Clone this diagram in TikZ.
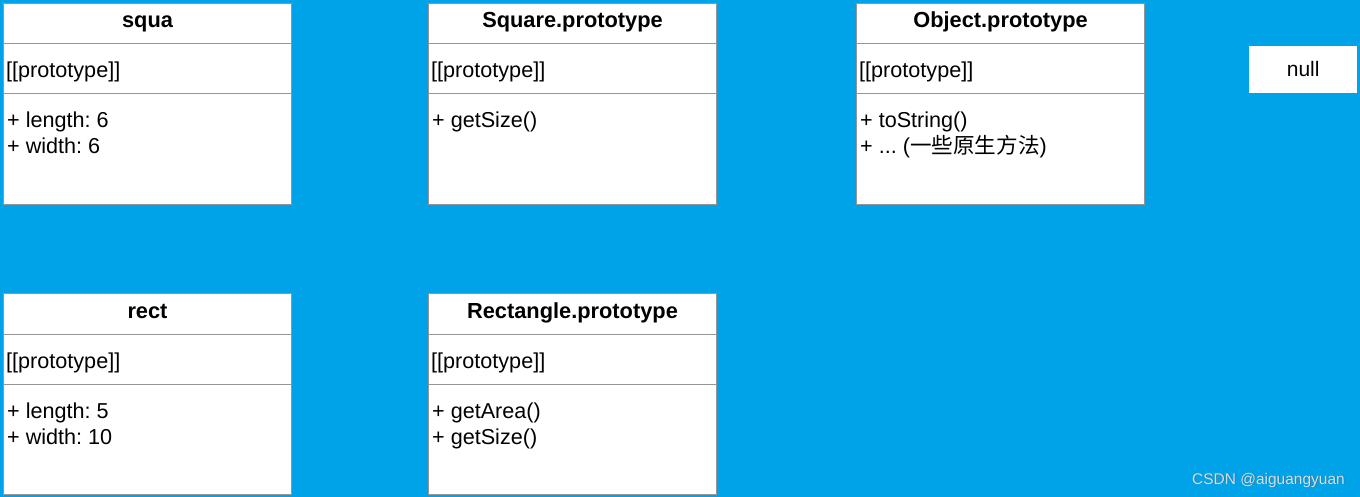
\documentclass[tikz,border=0pt]{standalone}
\usepackage{fontspec}
\setmainfont{Liberation Sans}
\newfontfamily\cjk{Noto Sans CJK SC}
\usetikzlibrary{calc}
\definecolor{bgblue}{RGB}{0,163,232}
\definecolor{divgray}{RGB}{150,150,150}
\definecolor{wm}{RGB}{205,225,238}
\definecolor{wmshadow}{RGB}{60,110,140}
\tikzset{
  umlbox/.style={draw=divgray, line width=1pt, fill=white, anchor=north west, minimum width=288pt, minimum height=201pt, inner sep=0pt},
  divline/.style={draw=divgray, line width=1pt},
  head/.style={font=\fontsize{21.8}{26}\selectfont\bfseries, anchor=base, inner sep=0pt},
  txt/.style={font=\fontsize{21.6}{26}\selectfont, anchor=base west, inner sep=0pt},
}
\newcommand{\mkumlbox}[4]{%
  \node[umlbox] (#1) at (#2,#3) {};
  \draw[divline] ($(#1.north west)+(0,41)$) -- ($(#1.north east)+(0,41)$);
  \draw[divline] ($(#1.north west)+(0,91)$) -- ($(#1.north east)+(0,91)$);
  \node[head] (#1-title) at ($(#1.north)+(0,25)$) {#4};
  \node[txt] (#1-proto) at ($(#1.north west)+(3,75)$) {[[prototype]]};
}
\begin{document}
\frenchspacing
\begin{tikzpicture}[x=1pt,y=-1pt]
\fill[bgblue] (0,0) rectangle (1360,497);
\useasboundingbox (0,0) rectangle (1360,497);
\mkumlbox{squa}{3}{3}{squa}
\node[txt] (squa-a) at ($(squa.north west)+(4,125)$) {+ length: 6};
\node[txt] (squa-b) at ($(squa.north west)+(4,151)$) {+ width: 6};
\mkumlbox{sp}{428}{3}{Square.prototype}
\node[txt] (sp-a) at ($(sp.north west)+(4,125)$) {+ getSize()};
\mkumlbox{op}{856}{3}{Object.prototype}
\node[txt] (op-a) at ($(op.north west)+(4,125)$) {+ toString()};
\node[txt] (op-b) at ($(op.north west)+(4,151)$) {+ ... ({\cjk 一些原生方法})};
\node[fill=white, minimum width=108pt, minimum height=47pt, inner sep=0pt, anchor=north west] (null) at (1249,46) {};
\node[font=\fontsize{21}{24}\selectfont, anchor=base, inner sep=0pt] (null-t) at ($(null.north)+(0,31)$) {null};
\mkumlbox{rect}{3}{293}{rect}
\node[txt] (rect-a) at ($(rect.north west)+(4,125)$) {+ length: 5};
\node[txt] (rect-b) at ($(rect.north west)+(4,151)$) {+ width: 10};
\mkumlbox{rp}{428}{293}{Rectangle.prototype}
\node[txt] (rp-a) at ($(rp.north west)+(4,125)$) {+ getArea()};
\node[txt] (rp-b) at ($(rp.north west)+(4,151)$) {+ getSize()};
\node[font=\fontsize{15.5}{18}\selectfont, text=wmshadow, anchor=base east, inner sep=0pt] (wms) at (1345.8,484.8) {CSDN @aiguangyuan};
\node[font=\fontsize{15.5}{18}\selectfont, text=wm, anchor=base east, inner sep=0pt] (wm) at (1345,484) {CSDN @aiguangyuan};
\end{tikzpicture}
\end{document}
